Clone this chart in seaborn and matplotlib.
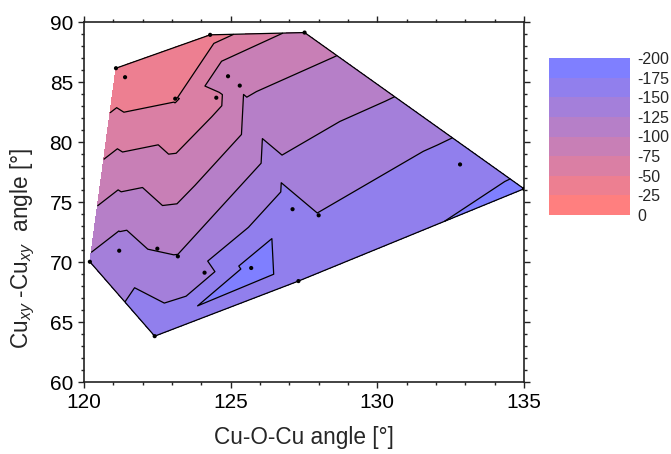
import numpy as np
import matplotlib
matplotlib.use("Agg")
import matplotlib.pyplot as plt
import matplotlib.tri as mtri
import seaborn as sns
from matplotlib.ticker import MultipleLocator

# Sampled geometries: Cu-O-Cu angle, in-plane Cu-Cu angle and the coupling value
cu_o_cu = [121.09, 121.40, 124.30, 127.52, 123.11, 124.51, 124.91, 125.31,
           132.82, 135.00, 128.00, 127.11, 121.20, 122.50, 123.20, 120.20,
           124.11, 125.70, 127.31, 122.41]
cu_cu = [86.15, 85.40, 88.93, 89.12, 83.61, 83.69, 85.48, 84.70,
         78.13, 76.10, 73.89, 74.40, 70.94, 71.11, 70.47, 70.02,
         69.11, 69.50, 68.41, 63.82]
coupling = [-26, -28, -38, -86, -48, -68, -96, -95,
            -161, -181, -151, -165, -137, -121, -126, -130,
            -140, -185, -164, -167]

# mesh connecting the sampled geometries (point indices)
mesh_triangles = [
    (0, 1, 2), (1, 2, 4), (2, 4, 6), (2, 3, 6), (3, 6, 7), (4, 5, 6),
    (5, 6, 7), (3, 7, 8), (3, 8, 9), (7, 8, 10), (7, 10, 11), (5, 7, 11),
    (5, 11, 14), (4, 5, 14), (4, 13, 14), (4, 12, 13), (1, 4, 12),
    (0, 1, 12), (0, 12, 15), (12, 15, 19), (12, 13, 14), (12, 14, 19),
    (14, 16, 19), (14, 16, 17), (11, 14, 17), (16, 17, 19), (17, 18, 19),
    (11, 17, 18), (10, 11, 18), (8, 10, 18), (8, 9, 18),
]

levels = [-200, -175, -150, -125, -100, -75, -50, -25, 0]
x_ticks = [120, 125, 130, 135]
y_ticks = [60, 65, 70, 75, 80, 85, 90]
# outer boundary drawn in black (left side left open)
outline_idx = [15, 19, 18, 9, 3, 2, 0]

sns.set_style("ticks")
plt.rcParams["font.family"] = ["Liberation Sans", "DejaVu Sans"]
plt.rcParams["mathtext.fontset"] = "custom"
plt.rcParams["mathtext.rm"] = "Liberation Sans"
plt.rcParams["mathtext.it"] = "Liberation Sans:italic"

# band colours: blue for the most negative band, red for the band next to zero
blue = np.array([127, 127, 255]) / 255
red = np.array([255, 127, 127]) / 255
n_bands = len(levels) - 1
band_colors = [tuple(blue + (red - blue) * i / (n_bands - 1)) for i in range(n_bands)]

# orient every triangle anticlockwise
xs = np.asarray(cu_o_cu)
ys = np.asarray(cu_cu)
tris = []
for a, b, c in mesh_triangles:
    area = (xs[b] - xs[a]) * (ys[c] - ys[a]) - (xs[c] - xs[a]) * (ys[b] - ys[a])
    tris.append((a, b, c) if area > 0 else (a, c, b))

fig = plt.figure(figsize=(6.71, 4.54), dpi=100)
ax = fig.add_axes([84 / 671, 1 - 382 / 454, 440 / 671, 360 / 454])

tri = mtri.Triangulation(xs, ys, triangles=np.array(tris))
filled = ax.tricontourf(tri, coupling, levels=levels, colors=band_colors)
ax.tricontour(tri, coupling, levels=levels[1:-1], colors="black",
              linewidths=0.9, linestyles="solid")

ox = [cu_o_cu[i] for i in outline_idx]
oy = [cu_cu[i] for i in outline_idx]
ax.plot(ox, oy, color="black", lw=0.9, zorder=3)

sns.scatterplot(x=cu_o_cu, y=cu_cu, ax=ax, color="black", s=9,
                edgecolor="none", zorder=4, legend=False)

ax.set_xlim(120, 135)
ax.set_ylim(60, 90)
ax.set_xticks(x_ticks)
ax.set_yticks(y_ticks)
ax.xaxis.set_minor_locator(MultipleLocator(1))
ax.yaxis.set_minor_locator(MultipleLocator(1))
ax.tick_params(which="both", direction="out", top=True, right=True,
               labelsize=15, width=1.0, color="#222222", labelcolor="black")
ax.tick_params(which="major", length=4.5)
ax.tick_params(which="minor", length=2.5)
for sp in ax.spines.values():
    sp.set_visible(True)
    sp.set_linewidth(1.2)
    sp.set_color("#222222")

ax.set_xlabel("Cu-O-Cu angle [°]", fontsize=16.3, labelpad=10)
ax.set_ylabel(r"Cu$_{xy}$ -Cu$_{xy}$  angle [°]", fontsize=16.3)
ax.yaxis.set_label_coords(-0.107, 0.37)

cax = fig.add_axes([549 / 671, 1 - 215 / 454, 81 / 671, 157 / 454])
cbar = fig.colorbar(filled, cax=cax, ticks=levels)
cbar.outline.set_visible(False)
cax.invert_yaxis()
cax.tick_params(length=0, labelsize=11.5, pad=5)
cax.set_yticklabels([str(v) for v in levels])

fig.savefig("out.png", dpi=100)
